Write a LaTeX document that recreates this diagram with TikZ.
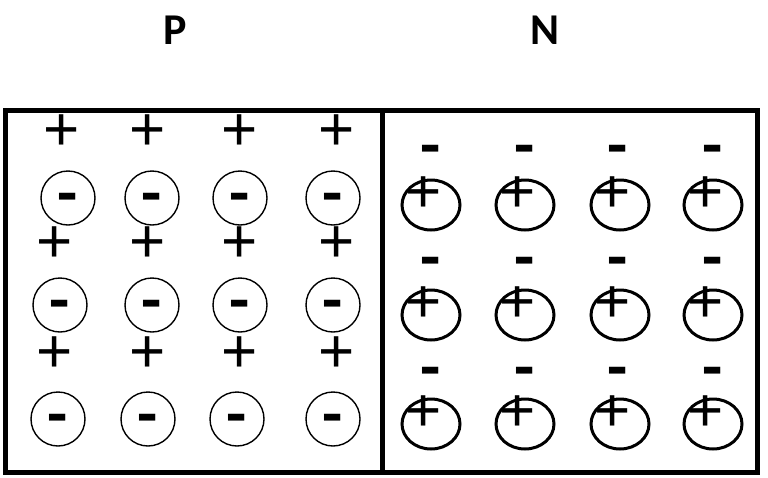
\documentclass[tikz,border=0pt]{standalone}
\usepackage{fontspec}
\setmainfont{Carlito}
\newfontfamily\plusfont{Liberation Sans}
\usetikzlibrary{shapes.geometric}
\tikzset{
  frame/.style={line width=5pt},
  title/.style={font=\fontsize{44}{50}\selectfont\bfseries, inner sep=0pt},
  plussign/.style={font=\plusfont\fontsize{62}{62}\selectfont, inner sep=0pt},
  minussign/.style={font=\fontsize{66}{66}\selectfont\bfseries, inner sep=0pt, yshift=-6pt},
  hole/.style={circle, draw, line width=1.4pt, minimum size=54pt, inner sep=0pt},
  donor/.style={ellipse, draw, line width=3pt, minimum width=58pt, minimum height=50pt, inner sep=0pt},
}
\begin{document}
\begin{tikzpicture}[x=1pt,y=-1pt]
\useasboundingbox (0,0) rectangle (768,477);
\node[title] (P) at (175,30) {P};
\node[title] (N) at (545,30) {N};
\coordinate (tl) at (5.5,110);
\coordinate (br) at (757,472);
\coordinate (dt) at (382,110);
\coordinate (db) at (382,472);
\draw[frame] (tl) rectangle (br);
\draw[frame] (dt) -- (db);
% P side: plus signs
\foreach \x [count=\i] in {62,148,240,337} \node[plussign] (pa\i) at (\x,133) {+};
\foreach \x [count=\i] in {55,148,240,337} \node[plussign] (pb\i) at (\x,245) {+};
\foreach \x [count=\i] in {55,148,240,337} \node[plussign] (pc\i) at (\x,355) {+};
% P side: circled minus
\foreach \x [count=\i] in {68,152,240,333} {
  \node[hole] (ha\i) at (\x,198) {};
  \node[minussign] (hma\i) at (ha\i.center) {-};
}
\foreach \x [count=\i] in {60,152,240,333} {
  \node[hole] (hb\i) at (\x,305) {};
  \node[minussign] (hmb\i) at (hb\i.center) {-};
}
\foreach \x [count=\i] in {58,148,237,333} {
  \node[hole] (hc\i) at (\x,419) {};
  \node[minussign] (hmc\i) at (hc\i.center) {-};
}
% N side: minus signs
\foreach \y [count=\j] in {150,262,372}
  \foreach \x [count=\i] in {431,525,618,713}
    \node[minussign] (m\j\i) at (\x,\y) {-};
% N side: circled plus
\foreach \y [count=\j] in {205,315,424}
  \foreach \x [count=\i] in {431,525,620,713} {
    \node[donor] (d\j\i) at (\x,\y) {};
    \node[plussign] (dp\j\i) at ([shift={(-7,-10)}]d\j\i.center) {+};
  }
\end{tikzpicture}
\end{document}
